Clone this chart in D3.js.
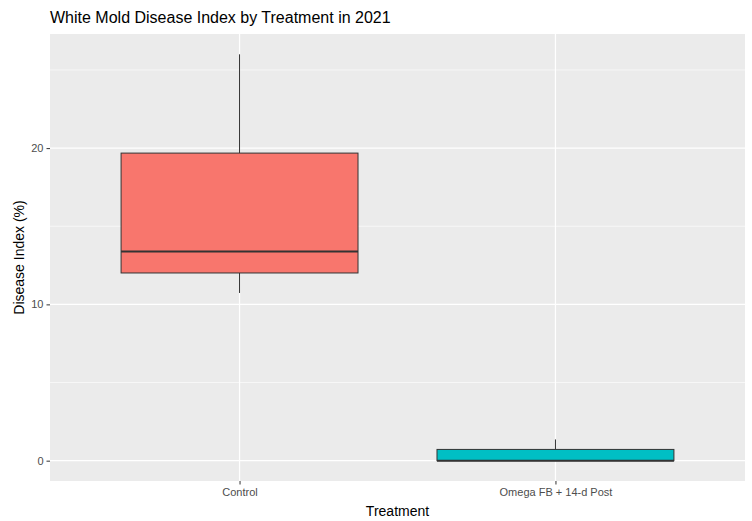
<!DOCTYPE html>
<html>
<head>
<meta charset="utf-8">
<script src="https://cdn.jsdelivr.net/npm/d3@7"></script>
<style>
  body { margin: 0; background: #fff; }
  text { font-family: "Liberation Sans", Arial, sans-serif; }
</style>
</head>
<body>
<div id="container"></div>
<script>
/* CONSTANTS AND GLOBALS */
const width = 752,
  height = 521,
  margin = { top: 34, bottom: 40, left: 50, right: 7 };

// box statistics
const treatments = ["Control", "Omega FB + 14-d Post"];
const lowerWhisker = [10.73, 0];
const q1 = [12.01, 0];
const median = [13.39, 0];
const q3 = [19.68, 0.72];
const upperWhisker = [26.0, 1.36];
const fills = ["#F8766D", "#00BFC4"];
const yTicks = [0, 10, 20];
const yMinor = [5, 15, 25];

const boxes = treatments.map((t, i) => ({
  name: t, lo: lowerWhisker[i], q1: q1[i], med: median[i], q3: q3[i], hi: upperWhisker[i], fill: fills[i]
}));

const svg = d3.select("#container")
  .append("svg")
  .attr("width", width)
  .attr("height", height);

// y scale with ggplot style 5% expansion
const yMax = d3.max(upperWhisker), yMin = d3.min(lowerWhisker);
const pad = (yMax - yMin) * 0.05;
const y = d3.scaleLinear()
  .domain([yMin - pad, yMax + pad])
  .range([height - margin.bottom, margin.top]);

// discrete x scale: 0.6 expansion on each side
const x = d3.scalePoint()
  .domain(treatments)
  .range([margin.left, width - margin.right])
  .padding(0.6);
const step = x.step();

// panel background
svg.append("rect")
  .attr("x", margin.left)
  .attr("y", margin.top)
  .attr("width", width - margin.left - margin.right)
  .attr("height", height - margin.top - margin.bottom)
  .attr("fill", "#EBEBEB");

// grid lines
svg.selectAll("line.minor")
  .data(yMinor)
  .join("line")
  .attr("class", "minor")
  .attr("x1", margin.left).attr("x2", width - margin.right)
  .attr("y1", d => y(d)).attr("y2", d => y(d))
  .attr("stroke", "#fff").attr("stroke-width", 0.6);

svg.selectAll("line.major")
  .data(yTicks)
  .join("line")
  .attr("class", "major")
  .attr("x1", margin.left).attr("x2", width - margin.right)
  .attr("y1", d => y(d)).attr("y2", d => y(d))
  .attr("stroke", "#fff").attr("stroke-width", 1.2);

svg.selectAll("line.vgrid")
  .data(treatments)
  .join("line")
  .attr("class", "vgrid")
  .attr("x1", d => x(d)).attr("x2", d => x(d))
  .attr("y1", margin.top).attr("y2", height - margin.bottom)
  .attr("stroke", "#fff").attr("stroke-width", 1.2);

// boxplots
const boxW = step * 0.75;
const g = svg.selectAll("g.box")
  .data(boxes)
  .join("g")
  .attr("class", "box");

g.append("line")
  .attr("x1", d => x(d.name)).attr("x2", d => x(d.name))
  .attr("y1", d => y(d.q3)).attr("y2", d => y(d.hi))
  .attr("stroke", "#333").attr("stroke-width", 1);

g.append("line")
  .attr("x1", d => x(d.name)).attr("x2", d => x(d.name))
  .attr("y1", d => y(d.q1)).attr("y2", d => y(d.lo))
  .attr("stroke", "#333").attr("stroke-width", 1);

g.append("rect")
  .attr("x", d => x(d.name) - boxW / 2)
  .attr("width", boxW)
  .attr("y", d => y(d.q3))
  .attr("height", d => y(d.q1) - y(d.q3))
  .attr("fill", d => d.fill)
  .attr("stroke", "#333").attr("stroke-width", 1);

g.append("line")
  .attr("x1", d => x(d.name) - boxW / 2).attr("x2", d => x(d.name) + boxW / 2)
  .attr("y1", d => y(d.med)).attr("y2", d => y(d.med))
  .attr("stroke", "#333").attr("stroke-width", 2);

// y axis
const yAxis = svg.append("g")
  .attr("transform", `translate(${margin.left},0)`)
  .call(d3.axisLeft(y).tickValues(yTicks).tickSize(3.5).tickPadding(3));
yAxis.select(".domain").remove();
yAxis.selectAll(".tick line").attr("stroke", "#333");
yAxis.selectAll(".tick text").attr("fill", "#4D4D4D").attr("font-size", 11)
  .style("font-family", "Liberation Sans, Arial, sans-serif");

// x axis
const xAxis = svg.append("g")
  .attr("transform", `translate(0,${height - margin.bottom})`)
  .call(d3.axisBottom(x).tickSize(3.5).tickPadding(4));
xAxis.select(".domain").remove();
xAxis.selectAll(".tick line").attr("stroke", "#333");
xAxis.selectAll(".tick text").attr("fill", "#4D4D4D").attr("font-size", 11)
  .style("font-family", "Liberation Sans, Arial, sans-serif");

// titles
svg.append("text")
  .attr("x", margin.left)
  .attr("y", 23)
  .attr("font-size", 16)
  .attr("fill", "#000")
  .text("White Mold Disease Index by Treatment in 2021");

svg.append("text")
  .attr("x", (margin.left + width - margin.right) / 2)
  .attr("y", 516)
  .attr("text-anchor", "middle")
  .attr("font-size", 14)
  .attr("fill", "#000")
  .text("Treatment");

svg.append("text")
  .attr("transform", `translate(24,${(margin.top + height - margin.bottom) / 2}) rotate(-90)`)
  .attr("text-anchor", "middle")
  .attr("font-size", 14)
  .attr("fill", "#000")
  .text("Disease Index (%)");
</script>
</body>
</html>
